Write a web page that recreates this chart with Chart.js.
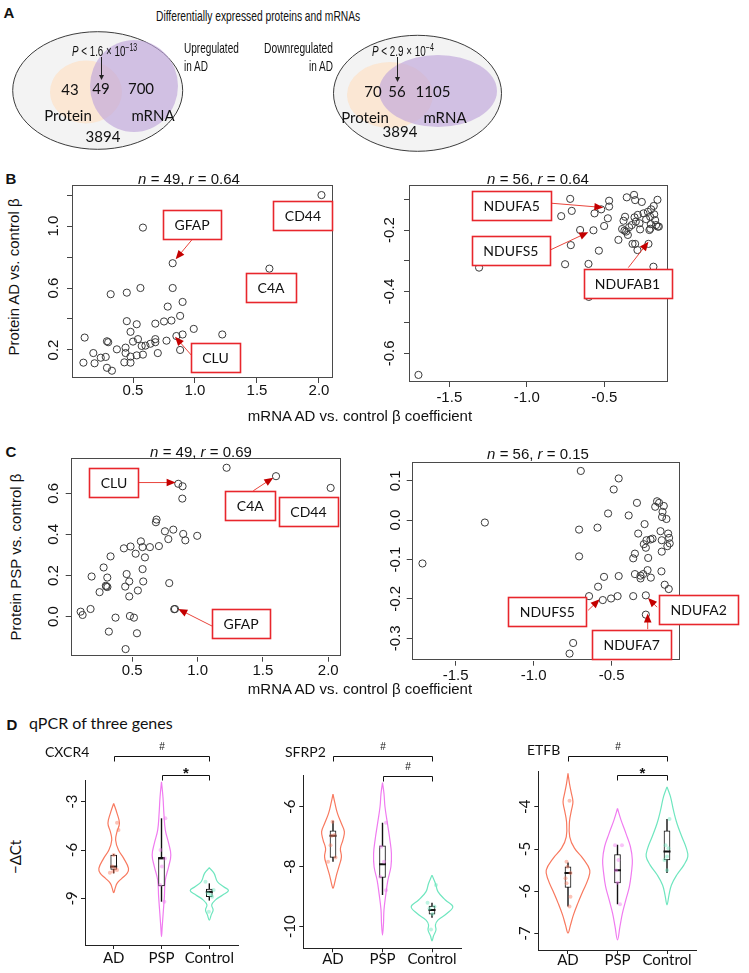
<!DOCTYPE html>
<html>
<head>
<meta charset="utf-8">
<title>Differentially expressed proteins and mRNAs</title>
<script src="https://cdn.jsdelivr.net/npm/chart.js@4.4.1/dist/chart.umd.min.js"></script>
<style>
  html, body { margin: 0; padding: 0; background: #fff; }
  #fig { position: relative; width: 749px; height: 973px; overflow: hidden; color: #111;
         font-family: 'Liberation Sans', Arial, sans-serif; }
  #fig canvas { position: absolute; }
  .lbl { position: absolute; white-space: nowrap; line-height: 1; }
  .arial { font-family: 'Liberation Sans', Arial, sans-serif; font-size: 15px; }
  .narrow { font-family: 'Liberation Sans', Arial, sans-serif; font-size: 15px; }
  .cal { font-family: Lato, 'Open Sans', sans-serif; }
  .letter { font-family: 'Liberation Sans', Arial, sans-serif; font-weight: bold; font-size: 15px; }
  sup { font-size: 10px; vertical-align: 5px; }
</style>
</head>
<body>
<div id="fig">
  <canvas id="venn" width="749" height="135" style="left:0;top:25px"></canvas>
  <canvas id="bUp" width="312" height="230" style="left:30px;top:180px"></canvas>
  <canvas id="bDown" width="305" height="232" style="left:370px;top:180px"></canvas>
  <canvas id="cUp" width="320" height="232" style="left:28px;top:453px"></canvas>
  <canvas id="cDown" width="375" height="232" style="left:372px;top:457px"></canvas>
  <canvas id="cxcr4" width="215" height="233" style="left:30px;top:740px"></canvas>
  <canvas id="sfrp2" width="220" height="233" style="left:250px;top:740px"></canvas>
  <canvas id="etfb" width="215" height="233" style="left:490px;top:740px"></canvas>
</div>
<script>
// ---------- data ----------
// Venn counts: protein only, both, mRNA only, neither
var vennUpCounts = [43, 49, 700, 3894];
var vennDownCounts = [70, 56, 1105, 3894];

// B: protein AD vs control (y) against mRNA AD vs control (x)
var bUpMrna = [2.02,0.58,0.82,1.60,0.32,0.45,0.56,0.82,0.90,0.78,0.88,0.45,0.53,0.68,0.75,0.81,0.48,0.99,0.11,0.29,0.30,0.54,0.50,0.68,0.68,0.77,0.85,0.90,1.22,0.57,0.60,0.64,0.44,0.37,0.44,0.48,0.53,0.58,0.70,0.88,0.18,0.24,0.28,0.10,0.19,0.43,0.48,0.29,0.33];
var bUpProtein = [1.20,0.99,0.76,0.725,0.56,0.57,0.60,0.60,0.51,0.48,0.42,0.386,0.366,0.37,0.384,0.39,0.317,0.336,0.28,0.256,0.25,0.27,0.254,0.27,0.25,0.26,0.29,0.30,0.30,0.226,0.228,0.24,0.215,0.204,0.18,0.157,0.165,0.17,0.18,0.20,0.18,0.15,0.155,0.118,0.114,0.12,0.118,0.085,0.066];
var bDownMrna = [-1.699,-1.308,-0.720,-0.778,-0.710,-0.716,-0.753,-0.656,-0.570,-0.602,-0.600,-0.563,-0.520,-0.469,-0.469,-0.477,-0.501,-0.535,-0.409,-0.355,-0.308,-0.301,-0.258,-0.157,-0.181,-0.198,-0.219,-0.247,-0.284,-0.305,-0.366,-0.376,-0.297,-0.204,-0.172,-0.200,-0.166,-0.155,-0.209,-0.203,-0.273,-0.323,-0.340,-0.385,-0.370,-0.359,-0.269,-0.318,-0.301,-0.215,-0.286,-0.183,-0.230,-0.148,-0.178,-0.348];
var bDownProtein = [-0.670,-0.322,-0.099,-0.155,-0.138,-0.249,-0.311,-0.200,-0.201,-0.310,-0.417,-0.146,-0.133,-0.105,-0.124,-0.162,-0.187,-0.267,-0.232,-0.094,-0.086,-0.103,-0.109,-0.102,-0.122,-0.133,-0.141,-0.146,-0.151,-0.159,-0.157,-0.170,-0.173,-0.157,-0.168,-0.181,-0.184,-0.189,-0.200,-0.196,-0.178,-0.184,-0.191,-0.197,-0.202,-0.205,-0.198,-0.245,-0.245,-0.245,-0.265,-0.319,-0.165,-0.189,-0.149,-0.216];

// C: protein PSP vs control (y) against mRNA AD vs control (x)
var cUpMrna = [1.222,1.600,2.018,0.852,0.885,0.883,0.686,0.681,0.750,0.814,0.776,0.890,0.906,0.997,0.704,0.635,0.566,0.579,0.487,0.436,0.526,0.597,0.334,0.281,0.309,0.189,0.457,0.579,0.584,0.477,0.301,0.298,0.446,0.250,0.543,0.783,0.477,0.827,0.181,0.105,0.120,0.482,0.513,0.372,0.321,0.536,0.449,0.821,0.310];
var cUpProtein = [0.724,0.683,0.626,0.646,0.634,0.574,0.472,0.459,0.415,0.423,0.377,0.402,0.371,0.393,0.343,0.338,0.366,0.338,0.341,0.332,0.306,0.288,0.293,0.239,0.190,0.195,0.207,0.231,0.171,0.171,0.146,0.150,0.146,0.119,0.127,0.163,0.098,0.037,0.037,0.024,0.008,0.003,-0.005,-0.005,-0.073,-0.081,-0.158,0.036,0.144];
var cDownMrna = [-1.713,-1.313,-0.698,-0.455,-0.487,-0.523,-0.709,-0.591,-0.709,-0.391,-0.338,-0.289,-0.330,-0.209,-0.196,-0.221,-0.166,-0.174,-0.177,-0.149,-0.187,-0.179,-0.138,-0.132,-0.128,-0.143,-0.179,-0.238,-0.251,-0.294,-0.281,-0.266,-0.351,-0.362,-0.351,-0.315,-0.298,-0.270,-0.249,-0.181,-0.160,-0.134,-0.549,-0.455,-0.587,-0.645,-0.557,-0.504,-0.462,-0.362,-0.281,-0.281,-0.747,-0.770,-0.277,-0.315];
var cDownProtein = [-0.110,-0.006,0.125,0.106,0.078,0.017,-0.024,-0.019,-0.092,0.012,0.044,-0.010,-0.034,0.048,0.044,0.034,0.036,0.021,0.008,0.003,-0.028,-0.051,-0.034,-0.045,-0.059,-0.066,-0.080,-0.047,-0.049,-0.061,-0.070,-0.096,-0.085,-0.097,-0.137,-0.148,-0.137,-0.127,-0.146,-0.130,-0.164,-0.175,-0.144,-0.142,-0.169,-0.193,-0.203,-0.199,-0.193,-0.193,-0.191,-0.240,-0.312,-0.339,-0.051,-0.141];

// tick values
var bUpXTicks = [0.5, 1.0, 1.5, 2.0];
var bUpYTicks = [0.2, 0.4, 0.6, 0.8, 1.0, 1.2];
var bUpYLabels = ['0.2', '0.6', '1.0'];
var bDownXTicks = [-1.5, -1.0, -0.5];
var bDownYTicks = [-0.6, -0.5, -0.4, -0.3, -0.2, -0.1];
var bDownYLabels = ['-0.6', '-0.4', '-0.2'];
var cUpYTicks = [0.0, 0.2, 0.4, 0.6];
var cDownYTicks = [-0.3, -0.2, -0.1, 0.0, 0.1];

// D: qPCR, -dCt
var groups = ['AD', 'PSP', 'Control'];
var sigPairs = [[1, 3], [2, 3]];

var cxcr4AdY = [-3.10,-3.72,-4.34,-4.86,-5.38,-6.00,-6.52,-7.14,-7.45,-7.76,-8.07,-8.38,-8.65];
var cxcr4AdW = [0,0.07,0.12,0.07,0.04,0.10,0.21,0.31,0.28,0.17,0.07,0.03,0];
var cxcr4PspY = [-1.76,-2.69,-3.72,-4.76,-5.59,-6.31,-7.03,-7.86,-8.90,-9.93,-10.76,-11.38];
var cxcr4PspW = [0,0.03,0.05,0.08,0.15,0.195,0.15,0.08,0.06,0.035,0.015,0];
var cxcr4CtlY = [-7.10,-7.45,-7.97,-8.28,-8.52,-8.79,-9.10,-9.41,-9.72,-10.03,-10.36];
var cxcr4CtlW = [0,0.10,0.17,0.30,0.40,0.28,0.13,0.05,0.08,0.04,0];
var cxcr4Box = [[-7.45,-7.20,-7.03,-6.31,-6.25], [-9.21,-8.23,-6.52,-6.46,-4.03], [-9.14,-8.90,-8.60,-8.42,-8.07]];
var cxcr4AdPts = [-4.30,-4.76,-6.31,-7.03,-7.41,-7.24,-7.34,-7.14];
var cxcr4AdJit = [0.07,0.10,0,-0.03,-0.08,0.07,-0.01,0.03];
var cxcr4PspPts = [-4.03,-6.00,-6.52,-7.03,-9.21,-8.17];
var cxcr4PspJit = [0.08,-0.02,0.07,0.01,0.06,-0.03];
var cxcr4CtlPts = [-7.97,-8.48,-8.69,-8.79,-9.83,-8.90];
var cxcr4CtlJit = [-0.08,0.09,-0.03,0.03,-0.01,0.06];
var cxcr4Sig = ['#', '*'];
var cxcr4YTicks = [-3, -6, -9];

var sfrp2AdY = [-5.58,-5.89,-6.22,-6.56,-6.83,-7.11,-7.39,-7.67,-7.94,-8.28,-8.56,-8.72];
var sfrp2AdW = [0,0.04,0.09,0.17,0.23,0.20,0.15,0.17,0.13,0.07,0.03,0];
var sfrp2PspY = [-5.19,-5.56,-6.00,-6.56,-7.11,-7.56,-8.00,-8.44,-8.89,-9.44,-9.89,-10.28];
var sfrp2PspW = [0,0.03,0.05,0.10,0.15,0.18,0.17,0.11,0.07,0.03,0.02,0];
var sfrp2CtlY = [-8.28,-8.56,-8.83,-9.11,-9.33,-9.56,-9.78,-9.94,-10.11,-10.31,-10.47];
var sfrp2CtlW = [0,0.07,0.12,0.27,0.42,0.30,0.12,0.07,0.08,0.03,0];
var sfrp2Box = [[-7.83,-7.69,-6.97,-6.80,-6.47], [-8.94,-8.36,-7.92,-7.30,-6.53], [-9.70,-9.58,-9.44,-9.31,-9.20]];
var sfrp2AdPts = [-6.94,-7.28,-7.83,-6.50,-7.69,-6.97];
var sfrp2AdJit = [0.03,-0.05,-0.10,-0.01,0.05,-0.03];
var sfrp2PspPts = [-6.53,-7.33,-7.83,-8.33,-8.78];
var sfrp2PspJit = [0.07,-0.03,0.03,-0.05,0.07];
var sfrp2CtlPts = [-8.61,-9.20,-9.33,-9.39,-9.58,-10.09];
var sfrp2CtlJit = [0.08,-0.09,0.05,-0.05,0.01,-0.02];
var sfrp2Sig = ['#', '#'];
var sfrp2YTicks = [-6, -8, -10];

var etfbAdY = [-3.21,-3.45,-3.69,-3.88,-4.08,-4.35,-4.71,-4.98,-5.22,-5.50,-5.73,-6.00,-6.28,-6.56,-6.80,-6.99];
var etfbAdW = [0,0.03,0.07,0.10,0.07,0.03,0.035,0.13,0.30,0.44,0.40,0.30,0.20,0.11,0.05,0];
var etfbPspY = [-4.04,-4.31,-4.63,-4.94,-5.26,-5.57,-5.89,-6.20,-6.52,-6.83,-7.15];
var etfbPspW = [0,0.07,0.17,0.26,0.30,0.28,0.24,0.17,0.10,0.05,0];
var etfbCtlY = [-3.53,-3.76,-4.08,-4.39,-4.71,-4.98,-5.18,-5.38,-5.61,-5.85,-6.09,-6.32];
var etfbCtlW = [0,0.07,0.13,0.20,0.30,0.39,0.42,0.34,0.20,0.09,0.04,0];
var etfbBox = [[-6.36,-5.91,-5.57,-5.42,-5.32], [-6.31,-5.80,-5.50,-5.13,-4.90], [-5.57,-5.26,-5.06,-4.57,-4.29]];
var etfbAdPts = [-3.86,-5.30,-5.42,-5.57,-5.69,-5.81,-6.13,-6.36];
var etfbAdJit = [0.03,-0.03,-0.01,0.05,-0.05,-0.03,0.05,0.03];
var etfbPspPts = [-4.91,-4.91,-5.26,-5.50,-5.80,-6.31];
var etfbPspJit = [-0.05,0.09,0.02,-0.03,0,0.05];
var etfbCtlPts = [-4.29,-4.91,-4.98,-5.18,-5.26,-5.50];
var etfbCtlJit = [0.05,-0.03,0.03,0,-0.05,0];
var etfbSig = ['#', '*'];
var etfbYTicks = [-4, -5, -6, -7];

var groupColors = ['#F8795F', '#F07BF0', '#6FE6BF'];

// labelled genes (label centre and arrow in data units)
var bUpCallouts = [
  { gene: 'GFAP', at: [0.976, 1.013], from: [0.978, 0.914], to: [0.844, 0.785] },
  { gene: 'CD44', at: [1.871, 1.065] },
  { gene: 'C4A', at: [1.613, 0.606] },
  { gene: 'CLU', at: [1.165, 0.152], from: [0.98, 0.158], to: [0.839, 0.286] }
];
var bDownCallouts = [
  { gene: 'NDUFA5', at: [-1.097, -0.120], from: [-0.843, -0.113], to: [-0.506, -0.127] },
  { gene: 'NDUFS5', at: [-1.103, -0.265], from: [-0.850, -0.265], to: [-0.603, -0.207] },
  { gene: 'NDUFAB1', at: [-0.350, -0.373], from: [-0.345, -0.322], to: [-0.215, -0.238] }
];
var cUpCallouts = [
  { gene: 'CLU', at: [0.360, 0.654], from: [0.538, 0.652], to: [0.832, 0.652] },
  { gene: 'C4A', at: [1.403, 0.539], from: [1.426, 0.612], to: [1.579, 0.676] },
  { gene: 'CD44', at: [1.848, 0.511] },
  { gene: 'GFAP', at: [1.333, -0.034], from: [1.120, -0.049], to: [0.852, 0.037] }
];
var cDownCallouts = [
  { gene: 'NDUFS5', at: [-0.913, -0.231], from: [-0.651, -0.229], to: [-0.577, -0.201] },
  { gene: 'NDUFA2', at: [0.058, -0.227], from: [-0.209, -0.221], to: [-0.267, -0.198] },
  { gene: 'NDUFA7', at: [-0.372, -0.316], from: [-0.269, -0.277], to: [-0.269, -0.237] }
];

// ---------- text ----------
var fig = document.getElementById('fig');
var anchors = {
  c: ['translate(-50%,-50%)', 'center center'], l: ['translate(0,-50%)', 'left center'],
  r: ['translate(-100%,-50%)', 'right center'], v: ['translate(-50%,-50%) rotate(-90deg)', 'center center']
};
// fitW: squeeze the text horizontally to the width it has in the figure (condensed face)
function put(html, x, y, cls, anchor, css, fitW) {
  var d = document.createElement('div');
  var a = anchors[anchor || 'c'];
  d.className = 'lbl ' + cls;
  d.innerHTML = html;
  d.style.left = x + 'px';
  d.style.top = y + 'px';
  if (css) d.style.cssText += css;
  fig.appendChild(d);
  var tr = a[0];
  if (fitW) tr += ' scaleX(' + (fitW / d.offsetWidth).toFixed(3) + ')';
  d.style.transformOrigin = a[1];
  d.style.transform = tr;
}

put('A', 9, 12, 'letter');
put('Differentially expressed proteins and mRNAs', 156, 15, 'narrow', 'l', null, 204);
put('<i>P</i> &lt; 1.6 × 10<sup>−13</sup>', 72, 50, 'narrow', 'l', 'font-size:14px', 65);
put('Upregulated', 184, 47, 'narrow', 'l', null, 55);
put('in AD', 184, 65, 'narrow', 'l', null, 24);
put('Downregulated', 333, 47, 'narrow', 'r', null, 69);
put('in AD', 333, 65, 'narrow', 'r', null, 24);
put('<i>P</i> &lt; 2.9 × 10<sup>−4</sup>', 372, 50, 'narrow', 'l', 'font-size:14px', 62);

put('B', 11, 178, 'letter');
put('<i>n</i> = 49, <i>r</i> = 0.64', 189, 178, 'arial');
put('<i>n</i> = 56, <i>r</i> = 0.64', 538, 178, 'arial');
put('Protein AD vs. control β', 13, 277, 'arial', 'v');
put('mRNA AD vs. control β coefficient', 360, 415, 'arial');

put('C', 11, 451, 'letter');
put('<i>n</i> = 49, <i>r</i> = 0.69', 201, 451, 'arial');
put('<i>n</i> = 56, <i>r</i> = 0.15', 538, 453, 'arial');
put('Protein PSP vs. control β', 15, 557, 'arial', 'v');
put('mRNA AD vs. control β coefficient', 360, 688, 'arial');

put('D', 12, 724, 'letter');
put('qPCR of three genes', 29, 723, 'cal', 'l', 'font-size:16px');
put('CXCR4', 45, 752, 'cal', 'l', 'font-size:14px');
put('SFRP2', 285, 752, 'cal', 'l', 'font-size:14px');
put('ETFB', 527, 750, 'cal', 'l', 'font-size:14px');
put('−ΔCt', 15, 857, 'cal', 'v', 'font-size:15px');

// ---------- chart helpers ----------
Chart.defaults.font.family = "'Liberation Sans', Arial, sans-serif";
Chart.defaults.color = '#111';

function fixedTicks(values) {
  return function (axis) { axis.ticks = values.map(function (v) { return { value: v }; }); };
}

function rotatedYLabels(fmt, offset, font) {
  return {
    id: 'rotYLabels',
    afterDraw: function (chart) {
      var s = chart.scales.y, ctx = chart.ctx;
      ctx.save();
      ctx.font = font;
      ctx.fillStyle = '#111';
      ctx.textAlign = 'center';
      ctx.textBaseline = 'middle';
      s.ticks.forEach(function (t) {
        var txt = fmt(t.value);
        if (!txt) return;
        ctx.save();
        ctx.translate(chart.chartArea.left - offset, s.getPixelForValue(t.value));
        ctx.rotate(-Math.PI / 2);
        ctx.fillText(txt, 0, 1);
        ctx.restore();
      });
      ctx.restore();
    }
  };
}

var framePlugin = {
  id: 'frame',
  beforeDatasetsDraw: function (chart) {
    var a = chart.chartArea, ctx = chart.ctx;
    ctx.save();
    ctx.strokeStyle = '#4a4a4a';
    ctx.lineWidth = 1;
    ctx.strokeRect(Math.round(a.left) + 0.5, Math.round(a.top) + 0.5,
      Math.round(a.right - a.left) - 1, Math.round(a.bottom - a.top) - 1);
    ctx.restore();
  }
};

function calloutPlugin(items) {
  return {
    id: 'callouts',
    afterDatasetsDraw: function (chart) {
      var ctx = chart.ctx, sx = chart.scales.x, sy = chart.scales.y;
      ctx.save();
      items.forEach(function (it) {
        if (!it.from) return;
        var x0 = sx.getPixelForValue(it.from[0]), y0 = sy.getPixelForValue(it.from[1]);
        var x1 = sx.getPixelForValue(it.to[0]), y1 = sy.getPixelForValue(it.to[1]);
        var a = Math.atan2(y1 - y0, x1 - x0), L = 9, W = 3.8;
        ctx.strokeStyle = '#e8453c';
        ctx.lineWidth = 1;
        ctx.beginPath(); ctx.moveTo(x0, y0); ctx.lineTo(x1 - 4 * Math.cos(a), y1 - 4 * Math.sin(a)); ctx.stroke();
        ctx.fillStyle = '#c40000';
        ctx.beginPath();
        ctx.moveTo(x1, y1);
        ctx.lineTo(x1 - L * Math.cos(a) + W * Math.sin(a), y1 - L * Math.sin(a) - W * Math.cos(a));
        ctx.lineTo(x1 - L * Math.cos(a) - W * Math.sin(a), y1 - L * Math.sin(a) + W * Math.cos(a));
        ctx.closePath(); ctx.fill();
      });
      ctx.font = "14px Lato, 'Open Sans', sans-serif";
      ctx.textAlign = 'center';
      ctx.textBaseline = 'middle';
      items.forEach(function (it) {
        var cx = sx.getPixelForValue(it.at[0]), cy = sy.getPixelForValue(it.at[1]);
        var w = Math.round(ctx.measureText(it.gene).width + 23), h = 29;
        var l = Math.round(cx - w / 2) + 0.5, t = Math.round(cy - h / 2) + 0.5;
        ctx.fillStyle = '#fff';
        ctx.fillRect(l, t, w, h);
        ctx.strokeStyle = '#e8262c';
        ctx.lineWidth = 1.6;
        ctx.strokeRect(l, t, w, h);
        ctx.fillStyle = '#111';
        ctx.fillText(it.gene, cx, cy + 1);
      });
      ctx.restore();
    }
  };
}

function rScatter(id, xs, ys, o) {
  var pts = xs.map(function (x, i) { return { x: x, y: ys[i] }; });
  var yLab = o.yLabels || o.yTicks.map(function (v) { return v.toFixed(1); });
  return new Chart(document.getElementById(id), {
    type: 'scatter',
    data: {
      datasets: [{
        data: pts, pointRadius: 3.6, pointBorderWidth: 1,
        pointBorderColor: '#3a3a3a', pointBackgroundColor: 'rgba(0,0,0,0)'
      }]
    },
    options: {
      responsive: false, animation: false, devicePixelRatio: 1,
      layout: { padding: { left: 0, top: o.padTop, right: o.padRight, bottom: 0 } },
      plugins: { legend: { display: false }, tooltip: { enabled: false } },
      scales: {
        x: {
          type: 'linear', min: o.xRange[0], max: o.xRange[1],
          afterBuildTicks: fixedTicks(o.xTicks),
          afterFit: function (s) { s.height = o.xAxisH; },
          border: { display: false },
          grid: { drawOnChartArea: false, tickLength: 5, tickColor: '#444' },
          ticks: {
            font: { size: 15 }, color: '#111', padding: o.xPad, maxRotation: 0, autoSkip: false,
            callback: function (v) { return v.toFixed(1); }
          }
        },
        y: {
          type: 'linear', min: o.yRange[0], max: o.yRange[1],
          afterBuildTicks: fixedTicks(o.yTicks),
          afterFit: function (s) { s.width = o.yAxisW; },
          border: { display: false },
          grid: { drawOnChartArea: false, tickLength: 5, tickColor: '#444' },
          ticks: { display: false }
        }
      }
    },
    plugins: [
      framePlugin,
      rotatedYLabels(function (v) {
        var s = v.toFixed(1);
        return yLab.indexOf(s) >= 0 ? s : '';
      }, o.yLabelOff, "15px 'Liberation Sans', Arial, sans-serif"),
      calloutPlugin(o.callouts)
    ]
  });
}

rScatter('bUp', bUpMrna, bUpProtein, {
  xRange: [0.008, 2.113], yRange: [0.019, 1.265], xTicks: bUpXTicks, yTicks: bUpYTicks,
  yLabels: bUpYLabels, padTop: 5, padRight: 9, yAxisW: 42, xAxisH: 32, xPad: -1,
  yLabelOff: 19, callouts: bUpCallouts
});
rScatter('bDown', bDownMrna, bDownProtein, {
  xRange: [-1.76, -0.089], yRange: [-0.693, -0.054], xTicks: bDownXTicks, yTicks: bDownYTicks,
  yLabels: bDownYLabels, padTop: 5, padRight: 7, yAxisW: 39, xAxisH: 30, xPad: 2,
  yLabelOff: 20, callouts: bDownCallouts
});
rScatter('cUp', cUpMrna, cUpProtein, {
  xRange: [0.029, 2.095], yRange: [-0.195, 0.770], xTicks: bUpXTicks, yTicks: cUpYTicks,
  padTop: 5.3, padRight: 7.3, yAxisW: 42.7, xAxisH: 28.3, xPad: 0,
  yLabelOff: 17.5, callouts: cUpCallouts
});
rScatter('cDown', cDownMrna, cDownProtein, {
  xRange: [-1.782, -0.062], yRange: [-0.357, 0.147], xTicks: bDownXTicks, yTicks: cDownYTicks,
  padTop: 5.3, padRight: 67, yAxisW: 39.7, xAxisH: 28.3, xPad: 1,
  yLabelOff: 17, callouts: cDownCallouts
});

// ---------- Venn diagrams (panel A) ----------
var vennSets = [
  { counts: vennUpCounts, outer: [97.7, 90.5, 85, 58.8], prot: [86, 92, 36, 31.5], rna: [134, 86, 44, 46],
    pos: [[70, 90], [101, 89], [141, 89], [103, 137]], protLbl: [68, 116], rnaLbl: [153, 116], arrow: [101, 57, 80] },
  { counts: vennDownCounts, outer: [417.5, 93.3, 84, 58], prot: [390, 95, 43, 33], rna: [438, 91, 59, 36],
    pos: [[373, 92], [397, 92], [433, 92], [400, 132]], protLbl: [365, 118], rnaLbl: [445, 118], arrow: [397, 57, 82] }
];
var vennPlugin = {
  id: 'venn',
  afterDraw: function (chart) {
    var ctx = chart.ctx, sx = chart.scales.x, sy = chart.scales.y;
    function X(v) { return sx.getPixelForValue(v); }
    function Y(v) { return sy.getPixelForValue(v); }
    function ell(e, fill, stroke) {
      ctx.beginPath();
      ctx.ellipse(X(e[0]), Y(e[1]), Math.abs(X(e[0] + e[2]) - X(e[0])), Math.abs(Y(e[1] + e[3]) - Y(e[1])), 0, 0, Math.PI * 2);
      ctx.fillStyle = fill; ctx.fill();
      if (stroke) { ctx.strokeStyle = stroke; ctx.lineWidth = 1; ctx.stroke(); }
    }
    ctx.save();
    vennSets.forEach(function (v) {
      ell(v.outer, '#f3f3f3', '#3c3c3c');
      ell(v.prot, 'rgba(251, 228, 206, 0.85)');
      ell(v.rna, 'rgba(192, 166, 218, 0.66)');
      ctx.fillStyle = '#111';
      ctx.font = "15px Lato, 'Open Sans', sans-serif";
      ctx.textAlign = 'center';
      ctx.textBaseline = 'middle';
      v.counts.forEach(function (n, i) { ctx.fillText(String(n), X(v.pos[i][0]), Y(v.pos[i][1])); });
      ctx.fillText('Protein', X(v.protLbl[0]), Y(v.protLbl[1]));
      ctx.fillText('mRNA', X(v.rnaLbl[0]), Y(v.rnaLbl[1]));
      var ax = X(v.arrow[0]), ay0 = Y(v.arrow[1]), ay1 = Y(v.arrow[2]);
      ctx.strokeStyle = '#222'; ctx.lineWidth = 1;
      ctx.beginPath(); ctx.moveTo(ax + 0.5, ay0); ctx.lineTo(ax + 0.5, ay1 - 4); ctx.stroke();
      ctx.beginPath(); ctx.moveTo(ax + 0.5, ay1); ctx.lineTo(ax - 2, ay1 - 5); ctx.lineTo(ax + 3, ay1 - 5); ctx.closePath();
      ctx.fillStyle = '#222'; ctx.fill();
    });
    ctx.restore();
  }
};
new Chart(document.getElementById('venn'), {
  type: 'scatter',
  data: { datasets: [] },
  options: {
    responsive: false, animation: false, devicePixelRatio: 1,
    layout: { padding: 0 },
    plugins: { legend: { display: false }, tooltip: { enabled: false } },
    scales: {
      x: { type: 'linear', min: 0, max: 749, display: false },
      y: { type: 'linear', min: 25, max: 160, reverse: true, display: false }
    }
  },
  plugins: [vennPlugin]
});

// ---------- violin plots (panel D) ----------
function fade(hex, a) {
  var n = parseInt(hex.slice(1), 16);
  return 'rgba(' + (n >> 16) + ',' + ((n >> 8) & 255) + ',' + (n & 255) + ',' + a + ')';
}

function bracketPlugin(sig, ys, canvasTop) {
  return {
    id: 'brackets',
    afterDraw: function (chart) {
      var ctx = chart.ctx, sx = chart.scales.x;
      ctx.save();
      ctx.strokeStyle = '#111'; ctx.fillStyle = '#111'; ctx.lineWidth = 1;
      ctx.textAlign = 'center';
      sigPairs.forEach(function (p, i) {
        var x0 = Math.round(sx.getPixelForValue(p[0])) + 0.5, x1 = Math.round(sx.getPixelForValue(p[1])) + 0.5;
        var y = Math.round(ys[i] - canvasTop) + 0.5;
        ctx.beginPath();
        ctx.moveTo(x0, y + 5); ctx.lineTo(x0, y); ctx.lineTo(x1, y); ctx.lineTo(x1, y + 5);
        ctx.stroke();
        if (sig[i] === '*') {
          ctx.font = "bold 15px 'Liberation Sans', Arial, sans-serif";
          ctx.textBaseline = 'middle';
          ctx.fillText('*', (x0 + x1) / 2, y - 2);
        } else {
          ctx.font = "10px 'Liberation Sans', Arial, sans-serif";
          ctx.textBaseline = 'middle';
          ctx.fillText('#', (x0 + x1) / 2, y - 9);
        }
      });
      ctx.restore();
    }
  };
}

function violinChart(id, o) {
  var ds = [];
  o.profiles.forEach(function (p, i) {
    var c = i + 1;
    var right = p[0].map(function (v, k) { return { x: c + p[1][k], y: v }; });
    var left = p[0].map(function (v, k) { return { x: c - p[1][k], y: v }; }).reverse().slice(1);
    ds.push({ data: right.concat(left), showLine: true, borderColor: groupColors[i], borderWidth: 1.2,
      pointRadius: 0, tension: 0.4, order: 5 });
  });
  o.boxes.forEach(function (b, i) {
    ds.push({ data: [{ x: i + 1, y: b[0] }, { x: i + 1, y: b[4] }], showLine: true, borderColor: '#111',
      borderWidth: 1.4, pointRadius: 0, order: 4 });
  });
  ds.push({ type: 'bar', data: o.boxes.map(function (b, i) { return { x: i + 1, y: [b[1], b[3]] }; }),
    backgroundColor: '#fff', borderColor: '#111', borderWidth: 1, borderSkipped: false,
    barThickness: 6, grouped: false, order: 3 });
  ds.push({ data: o.boxes.map(function (b, i) { return { x: i + 1, y: b[2] }; }), pointStyle: 'line',
    pointRadius: 3.5, pointBorderWidth: 2, pointBorderColor: '#111', order: 2 });
  o.points.forEach(function (p, i) {
    ds.push({ data: p[0].map(function (v, k) { return { x: i + 1 + p[1][k], y: v }; }),
      pointRadius: 2, pointBorderWidth: 0, pointBackgroundColor: fade(groupColors[i], 0.45), order: 1 });
  });
  var yLab = o.yLabels || o.yTicks;
  return new Chart(document.getElementById(id), {
    type: 'scatter',
    data: { datasets: ds },
    options: {
      responsive: false, animation: false, devicePixelRatio: 1,
      layout: { padding: { left: 0, top: o.padTop, right: o.padRight, bottom: 0 } },
      plugins: { legend: { display: false }, tooltip: { enabled: false } },
      scales: {
        x: {
          type: 'linear', min: 0.4, max: 3.6, offset: false,
          afterBuildTicks: fixedTicks([1, 2, 3]),
          afterFit: function (s) { s.height = o.xAxisH; },
          border: { display: true, color: '#222', width: 1 },
          grid: { offset: false, drawOnChartArea: false, tickLength: 4, tickColor: '#222' },
          ticks: {
            font: { family: "Lato, 'Open Sans', sans-serif", size: 15 }, color: '#111', padding: o.xPad,
            maxRotation: 0, autoSkip: false, callback: function (v) { return groups[v - 1]; }
          }
        },
        y: {
          type: 'linear', min: o.yRange[0], max: o.yRange[1], beginAtZero: false,
          afterBuildTicks: fixedTicks(o.yTicks),
          afterFit: function (s) { s.width = o.yAxisW; },
          border: { display: true, color: '#222', width: 1 },
          grid: { drawOnChartArea: false, tickLength: 4, tickColor: '#222' },
          ticks: { display: false }
        }
      }
    },
    plugins: [
      rotatedYLabels(function (v) { return yLab.indexOf(v) >= 0 ? String(v) : ''; }, 14,
        "15px Lato, 'Open Sans', sans-serif"),
      bracketPlugin(o.sig, o.bracketY, 740)
    ]
  });
}

violinChart('cxcr4', {
  profiles: [[cxcr4AdY, cxcr4AdW], [cxcr4PspY, cxcr4PspW], [cxcr4CtlY, cxcr4CtlW]],
  boxes: cxcr4Box,
  points: [[cxcr4AdPts, cxcr4AdJit], [cxcr4PspPts, cxcr4PspJit], [cxcr4CtlPts, cxcr4CtlJit]],
  sig: cxcr4Sig, bracketY: [756, 775],
  yRange: [-11.9, -1.65], yTicks: cxcr4YTicks,
  padTop: 40, padRight: 7, yAxisW: 55, xAxisH: 28, xPad: 0
});
violinChart('sfrp2', {
  profiles: [[sfrp2AdY, sfrp2AdW], [sfrp2PspY, sfrp2PspW], [sfrp2CtlY, sfrp2CtlW]],
  boxes: sfrp2Box,
  points: [[sfrp2AdPts, sfrp2AdJit], [sfrp2PspPts, sfrp2PspJit], [sfrp2CtlPts, sfrp2CtlJit]],
  sig: sfrp2Sig, bracketY: [756, 776],
  yRange: [-10.72, -4.94], yTicks: sfrp2YTicks,
  padTop: 35, padRight: 8.3, yAxisW: 53.3, xAxisH: 24.7, xPad: -2
});
violinChart('etfb', {
  profiles: [[etfbAdY, etfbAdW], [etfbPspY, etfbPspW], [etfbCtlY, etfbCtlW]],
  boxes: etfbBox,
  points: [[etfbAdPts, etfbAdJit], [etfbPspPts, etfbPspJit], [etfbCtlPts, etfbCtlJit]],
  sig: etfbSig, bracketY: [756, 775],
  yRange: [-7.39, -3.17], yTicks: etfbYTicks,
  padTop: 31.7, padRight: 8.3, yAxisW: 48.3, xAxisH: 23, xPad: -3
});
</script>
</body>
</html>
